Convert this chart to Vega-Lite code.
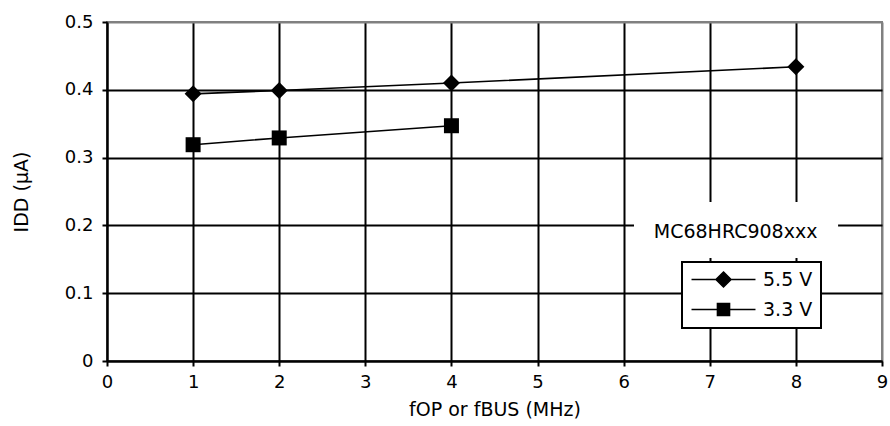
{
  "$schema": "https://vega.github.io/schema/vega-lite/v6.json",
  "width": 775,
  "height": 339,
  "autosize": {"type": "none"},
  "padding": {"left": 107, "top": 22, "right": 8, "bottom": 65},
  "background": "white",
  "config": {
    "font": "DejaVu Sans",
    "view": {"stroke": "#808080", "strokeWidth": 2},
    "axis": {
      "labelFont": "DejaVu Sans",
      "titleFont": "DejaVu Sans",
      "labelFontSize": 18,
      "titleFontSize": 19,
      "titleFontWeight": "normal",
      "labelColor": "black",
      "titleColor": "black",
      "domainColor": "black",
      "domainWidth": 2,
      "tickColor": "black",
      "tickWidth": 2,
      "tickSize": 5,
      "gridWidth": 2,
      "gridOpacity": 1
    }
  },
  "datasets": {
    "idd": [
      {"f": 1, "idd": 0.394, "series": "5.5 V"},
      {"f": 2, "idd": 0.399, "series": "5.5 V"},
      {"f": 4, "idd": 0.410, "series": "5.5 V"},
      {"f": 8, "idd": 0.434, "series": "5.5 V"},
      {"f": 1, "idd": 0.319, "series": "3.3 V"},
      {"f": 2, "idd": 0.329, "series": "3.3 V"},
      {"f": 4, "idd": 0.347, "series": "3.3 V"}
    ],
    "note": [
      {"label": "MC68HRC908xxx", "x0": 6.12, "x1": 8.49, "y0": 0.152, "y1": 0.2345, "xc": 7.3, "yc": 0.19}
    ]
  },
  "layer": [
    {
      "data": {"name": "idd"},
      "mark": {"type": "line", "strokeWidth": 1.6},
      "encoding": {
        "x": {
          "field": "f",
          "type": "quantitative",
          "scale": {"domain": [0, 9], "nice": false, "zero": true},
          "axis": {
            "title": "fOP or fBUS (MHz)",
            "values": [0, 1, 2, 3, 4, 5, 6, 7, 8, 9],
            "labelExpr": "format(datum.value, 'd')",
            "labelPadding": 7,
            "titlePadding": 9,
            "labelFlush": false,
            "gridColor": {"condition": {"test": "datum.value >= 9", "value": "#808080"}, "value": "black"}
          }
        },
        "y": {
          "field": "idd",
          "type": "quantitative",
          "scale": {"domain": [0, 0.5], "nice": false},
          "axis": {
            "title": "IDD (µA)",
            "values": [0, 0.1, 0.2, 0.3, 0.4, 0.5],
            "labelExpr": "datum.value == 0 ? '0' : format(datum.value, '.1f')",
            "labelPadding": 9,
            "titlePadding": 33,
            "labelFlush": false,
            "gridColor": {"condition": {"test": "datum.value >= 0.5", "value": "#808080"}, "value": "black"}
          }
        },
        "color": {
          "field": "series",
          "type": "nominal",
          "scale": {"domain": ["5.5 V", "3.3 V"], "range": ["black", "black"]},
          "legend": {
            "orient": "none",
            "legendX": 575,
            "legendY": 240,
            "title": null,
            "fillColor": "white",
            "strokeColor": "black",
            "padding": 8,
            "rowPadding": 9,
            "labelFont": "DejaVu Sans",
            "labelFontSize": 19,
            "labelColor": "black",
            "symbolSize": 196,
            "symbolOffset": 24,
            "labelOffset": 30,
            "encode": {
              "legend": {"update": {"strokeWidth": {"value": 2}}},
              "symbols": {
                "update": {
                  "shape": {"signal": "datum.value === '5.5 V' ? 'M-4.57,0L4.57,0M0,-1.07L1.07,0L0,1.07L-1.07,0Z' : 'M-4.57,0L4.57,0M-0.86,-0.86L0.86,-0.86L0.86,0.86L-0.86,0.86Z'"},
                  "fill": {"value": "black"},
                  "stroke": {"value": "black"},
                  "strokeWidth": {"value": 1.6},
                  "size": {"value": 196},
                  "opacity": {"value": 1},
                  "fillOpacity": {"value": 1},
                  "strokeOpacity": {"value": 1}
                }
              }
            }
          }
        }
      }
    },
    {
      "data": {"name": "idd"},
      "transform": [{"filter": "datum.series === '5.5 V'"}],
      "mark": {"type": "point", "shape": "diamond", "size": 289, "filled": true, "opacity": 1, "color": "black"},
      "encoding": {
        "x": {"field": "f", "type": "quantitative"},
        "y": {"field": "idd", "type": "quantitative"}
      }
    },
    {
      "data": {"name": "idd"},
      "transform": [{"filter": "datum.series === '3.3 V'"}],
      "mark": {"type": "point", "shape": "square", "size": 225, "filled": true, "opacity": 1, "color": "black"},
      "encoding": {
        "x": {"field": "f", "type": "quantitative"},
        "y": {"field": "idd", "type": "quantitative"}
      }
    },
    {
      "data": {"name": "note"},
      "mark": {"type": "rect", "fill": "white", "stroke": null},
      "encoding": {
        "x": {"field": "x0", "type": "quantitative"},
        "x2": {"field": "x1"},
        "y": {"field": "y0", "type": "quantitative"},
        "y2": {"field": "y1"}
      }
    },
    {
      "data": {"name": "note"},
      "mark": {"type": "text", "font": "DejaVu Sans", "fontSize": 19, "color": "black", "align": "center", "baseline": "middle"},
      "encoding": {
        "x": {"field": "xc", "type": "quantitative"},
        "y": {"field": "yc", "type": "quantitative"},
        "text": {"field": "label"}
      }
    }
  ]
}
